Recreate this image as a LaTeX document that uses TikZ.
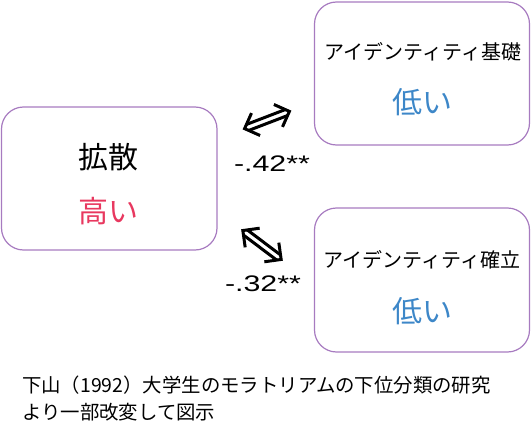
\documentclass[tikz,border=0pt]{standalone}
\usepackage{fontspec}
\setmainfont{Noto Sans CJK JP}
\newfontfamily\widefont[FakeStretch=1.35]{Liberation Sans}
\definecolor{boxline}{HTML}{A77BC0}
\definecolor{hipink}{HTML}{E8385F}
\definecolor{loblue}{HTML}{3D87C8}
\tikzset{
  box/.style={draw=boxline, line width=1.2pt, rounded corners=22pt, minimum width=#1, inner sep=0pt},
  title/.style={font=\fontsize{20}{24}\selectfont, text=black, inner sep=0pt},
  big/.style={font=\fontsize{30}{34}\selectfont, inner sep=0pt},
  coef/.style={font=\widefont\fontsize{22.5}{26}\selectfont, inner sep=0pt},
  arrowline/.style={line width=3pt, line join=miter, line cap=butt},
  note/.style={font=\fontsize{19.4}{26.5}\selectfont, inner sep=0pt, align=left, anchor=north west},
  dblarr/.pic={
    \draw[arrowline] (-12,12) -- (-24,0) -- (-12,-12);
    \draw[arrowline] (12,12) -- (24,0) -- (12,-12);
    \draw[arrowline] (-21,3.2) -- (21,3.2);
    \draw[arrowline] (-21,-3.2) -- (21,-3.2);
  }
}
\begin{document}
\begin{tikzpicture}[x=1pt,y=-1pt]
\useasboundingbox (0,0) rectangle (531,439);
\node[box=215.5pt, minimum height=143pt] (L) at (109.25,178.5) {};
\node[box=215pt, minimum height=143pt] (T) at (422,73.5) {};
\node[box=215pt, minimum height=144pt] (B) at (422,280) {};
\node[big] (Lt) at (108,157) {拡散};
\node[big, text=hipink] (Lv) at (108,211) {高い};
\node[title] (Tt) at (423,52) {アイデンティティ基礎};
\node[big, text=loblue] (Tv) at (422,102) {低い};
\node[title] (Bt) at (422,260) {アイデンティティ確立};
\node[big, text=loblue] (Bv) at (422,311) {低い};
\pic (arrA) [rotate=21] at (267,120) {dblarr};
\pic (arrB) [rotate=-37] at (262,245) {dblarr};
\node[coef] (c1) at (272,164) {-.42**};
\node[coef] (c2) at (263,284) {-.32**};
\node[note] (n) at (22,376) {下山（1992）大学生のモラトリアムの下位分類の研究\\より一部改変して図示};
\end{tikzpicture}
\end{document}
